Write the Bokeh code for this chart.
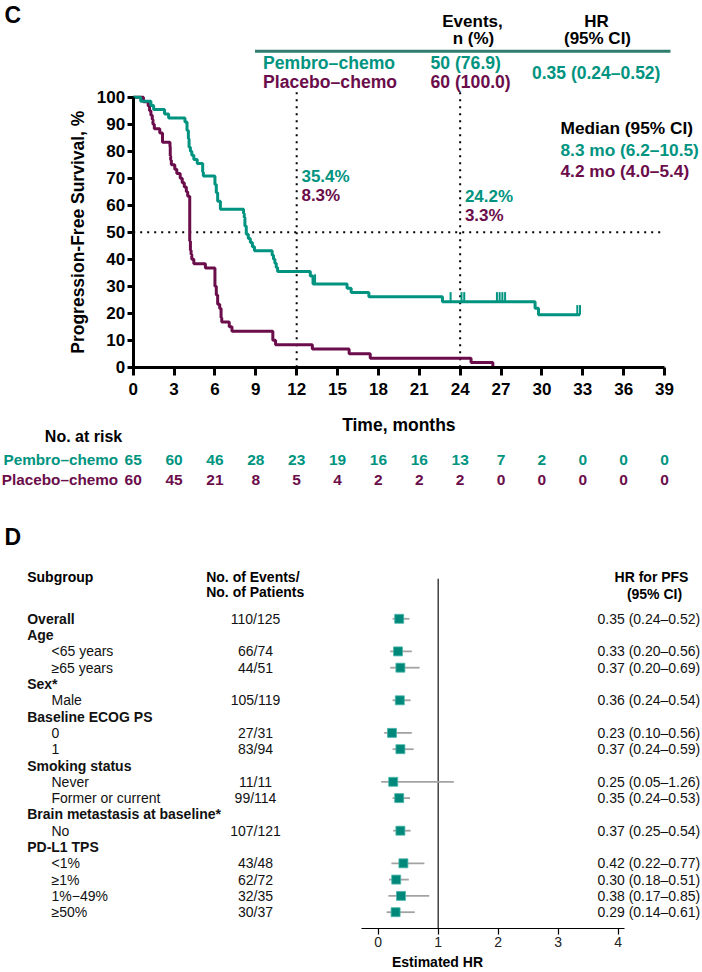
import numpy as np
from bokeh.plotting import figure
from bokeh.models import Range1d, FixedTicker, LinearAxis
from bokeh.core.properties import value
from bokeh.embed import file_html
from bokeh.resources import INLINE

# ---------------- data ----------------
arms = ["Pembro–chemo", "Placebo–chemo"]
events_n_pct = ["50 (76.9)", "60 (100.0)"]
hr_overall_text = "0.35 (0.24–0.52)"
median_header = "Median (95% CI)"
median_text = ["8.3 mo (6.2–10.5)", "4.2 mo (4.0–5.4)"]
landmark_times = [12, 24]
landmark_pembro = ["35.4%", "24.2%"]
landmark_placebo = ["8.3%", "3.3%"]
median_ref = 50

pembro_t = [0, 0.55, 1.3, 1.5, 2.3, 2.6, 3.8, 3.95, 4.05, 4.1,
            4.2, 4.3, 4.45, 4.7, 5.1, 5.15, 6.0, 6.1, 6.2, 6.4,
            8.1, 8.15, 8.2, 8.3, 8.45, 8.6, 8.75, 8.9, 10.2, 10.3,
            10.4, 10.5, 10.6, 13.0, 13.2, 15.7, 16.0, 17.3, 22.7, 29.5,
            29.75, 32.8]
pembro_s = [100, 98.5, 96.9, 95.4, 93.8, 92.3, 90.8, 87.7, 84.6, 81.5,
            80.0, 78.5, 76.9, 75.4, 72.3, 70.8, 67.7, 64.6, 61.5, 58.5,
            56.9, 55.4, 52.3, 49.2, 47.7, 46.2, 44.6, 43.1, 41.5, 40.0,
            38.5, 36.9, 35.4, 33.8, 30.8, 29.2, 27.7, 26.1, 24.2, 21.8,
            19.4, 19.4]
pembro_censor = [13.35, 23.3, 24.1, 24.3, 26.7, 26.9, 27.1, 27.3, 32.6, 32.8]

placebo_t = [0, 0.75, 1.1, 1.2, 1.3, 1.4, 1.45, 1.55, 1.95, 2.15,
             2.7, 2.72, 2.75, 2.8, 3.05, 3.2, 3.45, 3.6, 3.75, 3.9,
             4.0, 4.15, 4.2, 4.25, 4.3, 4.45, 5.3, 6.0, 6.1, 6.2,
             6.35, 6.45, 6.5, 7.05, 7.25, 10.25, 10.45, 13.15, 15.85, 17.4,
             24.8, 26.4]
placebo_s = [100, 98.3, 96.7, 95.0, 93.3, 91.7, 90.0, 88.3, 86.7, 83.3,
             81.7, 78.3, 76.7, 75.0, 73.3, 71.7, 70.0, 68.3, 66.7, 65.0,
             63.3, 46.7, 43.3, 41.7, 40.0, 38.3, 36.7, 30.0, 26.7, 23.3,
             21.7, 18.3, 16.7, 15.0, 13.3, 10.0, 8.3, 6.7, 5.0, 3.3,
             1.7, 0.0]

risk_times = [0, 3, 6, 9, 12, 15, 18, 21, 24, 27, 30, 33, 36, 39]
pembro_risk = [65, 60, 46, 28, 23, 19, 16, 16, 13, 7, 2, 0, 0, 0]
placebo_risk = [60, 45, 21, 8, 5, 4, 2, 2, 2, 0, 0, 0, 0, 0]
y_ticks = [0, 10, 20, 30, 40, 50, 60, 70, 80, 90, 100]

subgroups = ["Overall", "Age", "<65 years", "≥65 years", "Sex*", "Male",
             "Baseline ECOG PS", "0", "1", "Smoking status", "Never",
             "Former or current", "Brain metastasis at baseline*", "No",
             "PD-L1 TPS", "<1%", "≥1%", "1%−49%", "≥50%"]
is_header = [True, True, False, False, True, False, True, False, False, True,
             False, False, True, False, True, False, False, False, False]
events_pts = ["110/125", "", "66/74", "44/51", "", "105/119", "", "27/31",
              "83/94", "", "11/11", "99/114", "", "107/121", "", "43/48",
              "62/72", "32/35", "30/37"]
hr = [0.35, None, 0.33, 0.37, None, 0.36, None, 0.23, 0.37, None, 0.25, 0.35,
      None, 0.37, None, 0.42, 0.30, 0.38, 0.29]
hr_lo = [0.24, None, 0.20, 0.20, None, 0.24, None, 0.10, 0.24, None, 0.05, 0.24,
         None, 0.25, None, 0.22, 0.18, 0.17, 0.14]
hr_hi = [0.52, None, 0.56, 0.69, None, 0.54, None, 0.56, 0.59, None, 1.26, 0.53,
         None, 0.54, None, 0.77, 0.51, 0.85, 0.61]
hr_ticks = [0, 1, 2, 3, 4]
hr_axis_bounds = (-0.28, 4.1)

# ---------------- styling / layout constants (page pixels) ----------------
TEAL = "#009480"
PURPLE = "#6B0D4A"
SQ = "#00897B"
CI_GRAY = "#A3A3A3"
FONT_NAME = "Liberation Sans"
FONT = value(FONT_NAME)
W, H = 702, 970

KM_X0, KM_PX_MONTH = 132.7, 13.623     # page x of month 0, px per month
KM_Y0, KM_PX_PCT = 366.7, 2.7          # page y of 0 %, px per %
HR_X0, HR_PX = 377.7, 60.0             # page x of HR 0, px per HR unit
ROW_Y0, ROW_PX = 618.3, 16.3           # page y of first forest row, px per row

p = figure(width=W, height=H, x_range=Range1d(0, W), y_range=Range1d(H, 0),
           x_axis_location=None, y_axis_location=None, min_border=0,
           output_backend="svg", toolbar_location=None)
p.grid.visible = False
p.outline_line_color = None
p.background_fill_color = "white"

p.extra_x_ranges = {
    "km_x": Range1d(-KM_X0 / KM_PX_MONTH, (W - KM_X0) / KM_PX_MONTH),
    "hr": Range1d(-HR_X0 / HR_PX, (W - HR_X0) / HR_PX),
}
p.extra_y_ranges = {
    "km_y": Range1d((KM_Y0 - H) / KM_PX_PCT, KM_Y0 / KM_PX_PCT),
    "rows": Range1d((H - ROW_Y0) / ROW_PX, (0 - ROW_Y0) / ROW_PX),
}


def km_pct(page_y):
    return (KM_Y0 - page_y) / KM_PX_PCT


def km_month(page_x):
    return (page_x - KM_X0) / KM_PX_MONTH


def row_of(page_y):
    return (page_y - ROW_Y0) / ROW_PX


def txt(x, y, s, size, color="black", bold=True, align="left", baseline="middle",
        xr="default", yr="default", angle=0):
    p.text(x=[x], y=[y], text=[s], text_font=FONT, text_font_size=f"{size}px",
           text_font_style="bold" if bold else "normal", text_color=color,
           text_align=align, text_baseline=baseline, angle=angle,
           x_range_name=xr, y_range_name=yr)


KM = dict(x_range_name="km_x", y_range_name="km_y")
FR = dict(x_range_name="hr", y_range_name="rows")

# ---------------- panel C header ----------------
txt(4, 14, "C", 23)
txt(472, 21, "Events,", 17, align="center")
txt(473, 37.5, "n (%)", 17, align="center")
txt(596, 21, "HR", 17, align="center")
txt(597, 37.5, "(95% CI)", 17, align="center")
p.segment(x0=[254.5], y0=[50.7], x1=[670], y1=[50.7], line_color="#2E7D6E", line_width=3)
for i, (arm, col) in enumerate(zip(arms, [TEAL, PURPLE])):
    yy = [62.5, 81.5][i]
    txt(262.6, yy, arm, 17.6, color=col)
    txt(430, yy, events_n_pct[i], 17.6, color=col)
txt(531.5, 72, hr_overall_text, 17.5, color=TEAL)

# ---------------- KM axes ----------------
def style_km_axis(ax):
    ax.axis_line_width = 3
    ax.axis_line_color = "black"
    ax.major_tick_line_width = 3
    ax.major_tick_line_color = "black"
    ax.minor_tick_line_color = None
    ax.major_tick_in = 0
    ax.major_label_text_font = FONT_NAME
    ax.major_label_text_font_size = "17px"
    ax.major_label_text_font_style = "bold"
    ax.major_label_text_color = "black"


xax = LinearAxis(fixed_location=0, ticker=FixedTicker(ticks=risk_times),
                 bounds=(risk_times[0], risk_times[-1]), **KM)
style_km_axis(xax)
xax.major_tick_out = 8
xax.major_label_standoff = 8
p.add_layout(xax, "below")

yax = LinearAxis(fixed_location=0, ticker=FixedTicker(ticks=y_ticks),
                 bounds=(y_ticks[0], y_ticks[-1]), **KM)
style_km_axis(yax)
yax.major_tick_out = 6
yax.major_label_standoff = 2
p.add_layout(yax, "left")

txt(77, (KM_Y0 + km_pct(0) * 0 + (KM_Y0 - 100 * KM_PX_PCT)) / 2,
    "Progression-Free Survival, %", 17.5, align="center", angle=np.pi / 2)
txt((km_month(KM_X0) + risk_times[-1]) / 2 * KM_PX_MONTH + KM_X0, 424,
    "Time, months", 17.5, align="center")

# ---------------- KM curves ----------------
p.segment(x0=[0], y0=[median_ref], x1=[risk_times[-1]], y1=[median_ref],
          line_color="black", line_width=2, line_dash="2 5", **KM)
top = km_pct(90)
p.segment(x0=landmark_times, y0=[0, 0], x1=landmark_times, y1=[top, top],
          line_color="black", line_width=2, line_dash="2 5", **KM)

p.step(x=placebo_t, y=placebo_s, mode="after", line_color=PURPLE, line_width=3, **KM)
p.step(x=pembro_t, y=pembro_s, mode="after", line_color=TEAL, line_width=3, **KM)
pt = np.array(pembro_t)
ps = np.array(pembro_s)
c = np.array(pembro_censor)
lvl = ps[np.searchsorted(pt, c, side="right") - 1]
p.segment(x0=c, y0=lvl, x1=c, y1=lvl + 3.6, line_color=TEAL, line_width=2, **KM)

lm_y = [(176, 194.5), (195.5, 215)]
for i, t in enumerate(landmark_times):
    txt(t + 0.35, km_pct(lm_y[i][0]), landmark_pembro[i], 17, color=TEAL, xr="km_x", yr="km_y")
    txt(t + 0.35, km_pct(lm_y[i][1]), landmark_placebo[i], 17, color=PURPLE, xr="km_x", yr="km_y")
txt(560, 127.5, median_header, 17.3)
txt(560, 149, median_text[0], 17.3, color=TEAL)
txt(560, 170, median_text[1], 17.3, color=PURPLE)

# ---------------- risk table ----------------
txt(83, 436, "No. at risk", 16, align="center")
for arm, vals, col, yy in [(arms[0], pembro_risk, TEAL, 459), (arms[1], placebo_risk, PURPLE, 479)]:
    txt(117.7, yy, arm, 15.3, color=col, align="right")
    p.text(x=risk_times, y=[yy] * len(risk_times), text=[str(v) for v in vals],
           text_font=FONT, text_font_size="15.5px", text_font_style="bold",
           text_color=col, text_align="center", text_baseline="middle",
           x_range_name="km_x")

# ---------------- panel D: forest plot ----------------
axis_row = row_of(927.7)
fax = LinearAxis(fixed_location=axis_row, ticker=FixedTicker(ticks=hr_ticks),
                 bounds=hr_axis_bounds, **FR)
fax.axis_line_color = "black"
fax.axis_line_width = 1.2
fax.major_tick_line_color = "black"
fax.major_tick_line_width = 1.2
fax.major_tick_out = 6
fax.major_tick_in = 0
fax.minor_tick_line_color = None
fax.major_label_text_font = FONT_NAME
fax.major_label_text_font_size = "14px"
fax.major_label_text_color = "#222222"
fax.major_label_standoff = 3
p.add_layout(fax, "below")
txt(437, 961, "Estimated HR", 14, align="center")

p.segment(x0=[1], y0=[row_of(578.3)], x1=[1], y1=[axis_row],
          line_color="#333333", line_width=1.4, **FR)

txt(4, 536.5, "D", 23)
txt(26.7, 576.5, "Subgroup", 14)
txt(205.7, 576.5, "No. of Events/", 14)
txt(205.7, 591.7, "No. of Patients", 14)
txt(651, 576.5, "HR for PFS", 14, align="center")
txt(654, 593.3, "(95% CI)", 14, align="center")

rows = list(range(len(subgroups)))
for r, lab, hd in zip(rows, subgroups, is_header):
    txt(26.7 if hd else 51, r, lab, 14, color="#111111", bold=hd, yr="rows")
p.text(x=[255] * len(rows), y=rows, text=events_pts, text_font=FONT,
       text_font_size="14px", text_color="#111111", text_align="center",
       text_baseline="middle", y_range_name="rows")

d_rows = [r for r in rows if hr[r] is not None]
d_hr = [hr[r] for r in d_rows]
d_lo = [hr_lo[r] for r in d_rows]
d_hi = [hr_hi[r] for r in d_rows]
p.segment(x0=d_lo, y0=d_rows, x1=d_hi, y1=d_rows, line_color=CI_GRAY, line_width=1.8, **FR)
p.scatter(x=d_hr, y=d_rows, marker="square", size=9, fill_color=SQ,
          line_color="#4DB6A9", line_width=0.8, **FR)
p.text(x=[597] * len(d_rows), y=d_rows,
       text=[f"{h:.2f} ({l:.2f}–{u:.2f})" for h, l, u in zip(d_hr, d_lo, d_hi)],
       text_font=FONT, text_font_size="14px", text_color="#111111",
       text_align="left", text_baseline="middle", y_range_name="rows")

open("out.html", "w").write(file_html(p, INLINE))
